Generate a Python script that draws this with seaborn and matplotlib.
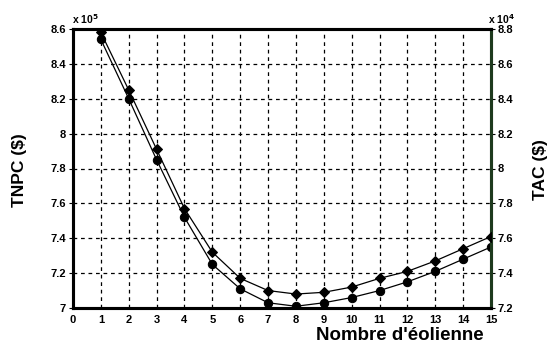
import matplotlib
matplotlib.use("Agg")
import matplotlib.pyplot as plt
import seaborn as sns
import pandas as pd
import numpy as np

n_eol = list(range(1, 16))
tnpc = [8.54, 8.20, 7.85, 7.52, 7.25, 7.11, 7.03, 7.01, 7.03, 7.06, 7.10, 7.15, 7.21, 7.28, 7.35]  # x 10^5
tac = [8.78, 8.45, 8.11, 7.77, 7.52, 7.37, 7.30, 7.28, 7.29, 7.32, 7.37, 7.41, 7.47, 7.54, 7.61]   # x 10^4
left_ticks = [7.0, 7.2, 7.4, 7.6, 7.8, 8.0, 8.2, 8.4, 8.6]
left_labels = ["7", "7.2", "7.4", "7.6", "7.8", "8", "8.2", "8.4", "8.6"]
right_ticks = [7.2, 7.4, 7.6, 7.8, 8.0, 8.2, 8.4, 8.6, 8.8]
right_labels = ["7.2", "7.4", "7.6", "7.8", "8", "8.2", "8.4", "8.6", "8.8"]
x_ticks = list(range(0, 16))

sns.set_style("white")
plt.rcParams['font.family'] = ['Liberation Sans', 'DejaVu Sans']
plt.rcParams['text.color'] = 'black'
plt.rcParams['xtick.color'] = 'black'
plt.rcParams['ytick.color'] = 'black'

df = pd.DataFrame({"n": n_eol, "tnpc": tnpc, "tac": tac})

fig = plt.figure(figsize=(5.5, 3.49), dpi=100)
ax = fig.add_axes([73/550, 1-308/349, (491-73)/550, (308-29)/349])
ax2 = ax.twinx()

sns.lineplot(data=df, x="n", y="tnpc", ax=ax, color="black", lw=0.9,
             marker="o", markersize=6, markeredgecolor="black", zorder=3)
sns.lineplot(data=df, x="n", y="tac", ax=ax2, color="black", lw=0.9,
             marker="D", markersize=5, markeredgecolor="black", zorder=3)

ax.set_xlim(0, 15)
ax.set_ylim(7.0, 8.6)
ax2.set_ylim(7.2, 8.8)
ax.set_xticks(x_ticks)
ax.set_xticklabels([str(t) for t in x_ticks], fontsize=8, fontweight="heavy")
ax.set_yticks(left_ticks)
ax.set_yticklabels(left_labels, fontsize=8, fontweight="heavy")
ax2.set_yticks(right_ticks)
ax2.set_yticklabels(right_labels, fontsize=8, fontweight="heavy")

ax.grid(True, color="black", linestyle=(0, (3, 3)), lw=0.9)
ax.set_axisbelow(True)
ax.set_xlabel("")
ax.set_ylabel("")
ax2.set_ylabel("")

for a in (ax, ax2):
    for s in a.spines.values():
        s.set_linewidth(2.2)
        s.set_color("black")
ax2.spines["right"].set_color("#1e3a1e")
ax.tick_params(axis="both", length=3, width=0.8, pad=2, colors="black")
ax2.tick_params(axis="y", length=3, width=0.8, pad=2, colors="black")

fig.text(20/550, 1-170/349, "TNPC (\\$)", rotation=90, ha="center", va="center",
         fontsize=12.5, fontweight="bold", color="black")
fig.text(540/550, 1-170/349, "TAC (\\$)", rotation=90, ha="center", va="center",
         fontsize=12.5, fontweight="bold", color="black")
fig.text(400/550, 1-336/349, "Nombre d'éolienne", ha="center", va="center",
         fontsize=13.5, fontweight="bold", color="black")
fig.text(72/550, 1-19/349, "x 10$^{\\mathbf{5}}$", ha="left", va="center",
         fontsize=7.5, fontweight="bold", color="black")
fig.text(488/550, 1-19/349, "x 10$^{\\mathbf{4}}$", ha="left", va="center",
         fontsize=7.5, fontweight="bold", color="black")

fig.savefig("out.png", dpi=100)
